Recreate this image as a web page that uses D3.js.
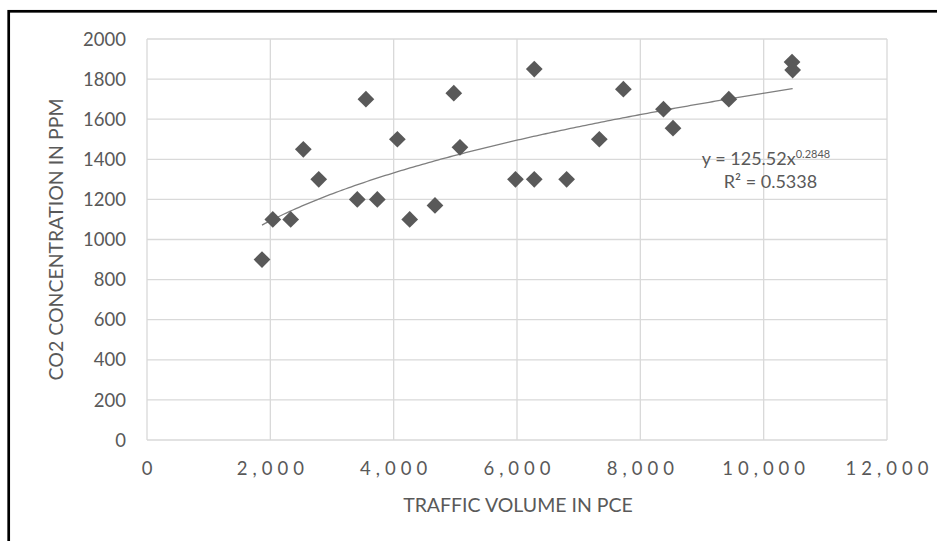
<!DOCTYPE html>
<html lang="en">
  <head>
    <meta charset="utf-8" />
    <title>CO2 concentration vs traffic volume</title>
    <script src="https://d3js.org/d3.v7.min.js"></script>
    <style>
      body { margin: 0; background: #fff; }
      text { font-family: Lato, "Open Sans", sans-serif; fill: #595959; }
    </style>
  </head>
  <body>
    <div id="chart"></div>
    <script>
      // Data
      const traffic = [1865, 2040, 2330, 2535, 2785, 3410, 3550, 3735, 4060, 4260, 4670, 4975,
        5075, 5975, 6280, 6280, 6805, 7335, 7725, 8375, 8530, 9435, 10460, 10470];
      const co2 = [900, 1100, 1100, 1450, 1300, 1200, 1700, 1200, 1500, 1100, 1170, 1730,
        1460, 1300, 1850, 1300, 1300, 1500, 1750, 1650, 1555, 1700, 1885, 1845];
      const xTicks = [0, 2000, 4000, 6000, 8000, 10000, 12000];
      const yTicks = [0, 200, 400, 600, 800, 1000, 1200, 1400, 1600, 1800, 2000];
      // power trendline shown on the chart
      const trendA = 125.52, trendB = 0.2848, trendR2 = 0.5338;

      const W = 937, H = 541;
      const plot = { left: 147, right: 887, top: 39, bottom: 440 };

      const svg = d3.select("#chart").append("svg")
        .attr("width", W).attr("height", H);

      // outer frame (only left and top edges fall inside the picture)
      svg.append("rect")
        .attr("x", 8.7).attr("y", 11.3)
        .attr("width", W + 20).attr("height", H + 20)
        .attr("fill", "none").attr("stroke", "#000").attr("stroke-width", 2.7);

      const x = d3.scaleLinear().domain([0, 12000]).range([plot.left, plot.right]);
      const y = d3.scaleLinear().domain([0, 2000]).range([plot.bottom, plot.top]);

      // gridlines
      svg.append("g").selectAll("line").data(yTicks).join("line")
        .attr("x1", plot.left).attr("x2", plot.right)
        .attr("y1", (d) => y(d)).attr("y2", (d) => y(d))
        .attr("stroke", "#d9d9d9").attr("stroke-width", 1.3);
      svg.append("g").selectAll("line").data(xTicks).join("line")
        .attr("y1", plot.top).attr("y2", plot.bottom)
        .attr("x1", (d) => x(d)).attr("x2", (d) => x(d))
        .attr("stroke", "#d9d9d9").attr("stroke-width", 1.3);

      // tick labels
      svg.append("g").selectAll("text").data(yTicks).join("text")
        .attr("x", 126).attr("y", (d) => y(d)).attr("dy", "0.36em")
        .attr("text-anchor", "end").style("font-size", "18.5px")
        .text((d) => d);
      svg.append("g").selectAll("text").data(xTicks).join("text")
        .attr("x", (d) => x(d) + 2.5).attr("y", 475)
        .attr("text-anchor", "middle").style("font-size", "18.5px")
        .style("letter-spacing", "5px")
        .text((d) => d3.format(",")(d));

      // axis titles
      svg.append("text")
        .attr("x", 518).attr("y", 511.5)
        .attr("text-anchor", "middle").style("font-size", "19.5px")
        .text("TRAFFIC VOLUME IN PCE");
      svg.append("text")
        .attr("transform", "translate(63,239.5) rotate(-90)")
        .attr("text-anchor", "middle").style("font-size", "19.5px")
        .text("CO2 CONCENTRATION IN PPM");

      // trendline
      const xs = d3.range(d3.min(traffic), d3.max(traffic), 50).concat([d3.max(traffic)]);
      svg.append("path")
        .datum(xs)
        .attr("d", d3.line().x((d) => x(d)).y((d) => y(trendA * Math.pow(d, trendB))))
        .attr("fill", "none").attr("stroke", "#7f7f7f").attr("stroke-width", 1.3);

      // markers
      const diamond = d3.symbol(d3.symbolSquare, 140);
      svg.append("g").selectAll("path").data(traffic).join("path")
        .attr("d", diamond)
        .attr("transform", (d, i) => `translate(${x(d)},${y(co2[i])}) rotate(45)`)
        .attr("fill", "#595959");

      // equation label
      const eq = svg.append("text")
        .attr("x", 766).attr("y", 165)
        .attr("text-anchor", "middle").style("font-size", "18px");
      eq.append("tspan").text("y = " + trendA + "x");
      eq.append("tspan").attr("dy", -7).style("font-size", "11px").text(trendB);
      svg.append("text")
        .attr("x", 770.5).attr("y", 187.5)
        .attr("text-anchor", "middle").style("font-size", "18px")
        .text("R² = " + trendR2);
    </script>
  </body>
</html>
